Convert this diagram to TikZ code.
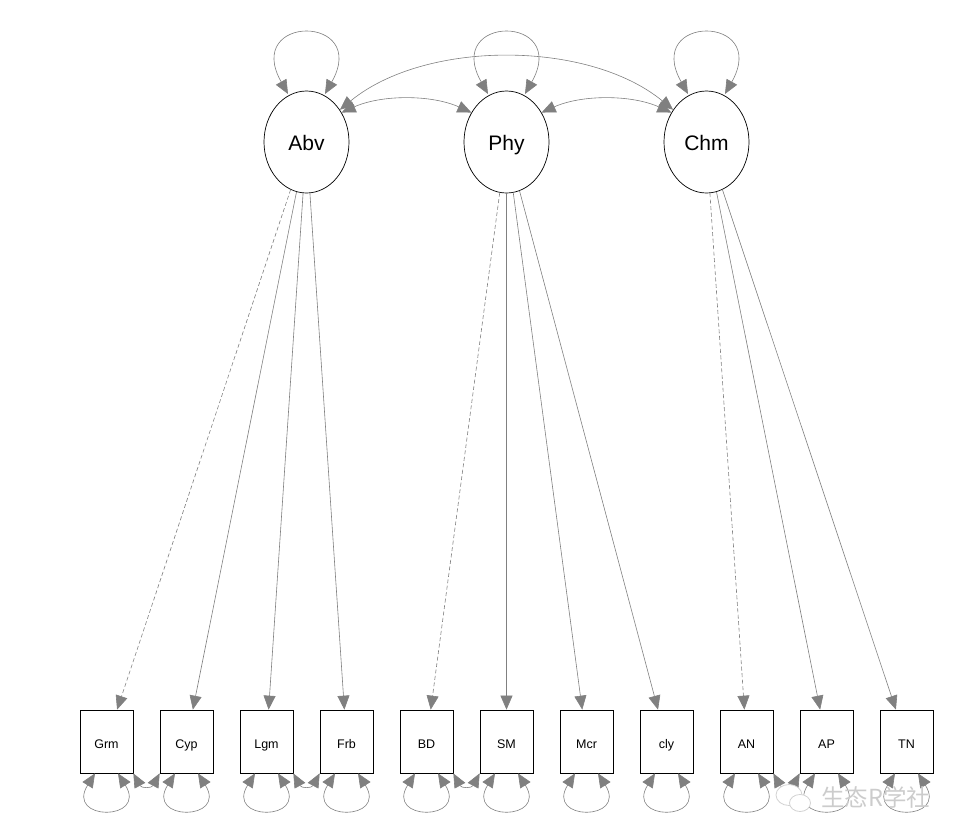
\documentclass[tikz,border=0pt]{standalone}
\usepackage{fontspec}
\setmainfont{Liberation Sans}
\newfontfamily\cjkfont{Noto Sans CJK SC}
\usetikzlibrary{arrows.meta,shapes.geometric,calc}
\begin{document}
\begin{tikzpicture}[x=1pt,y=-1pt,
  lat/.style={ellipse,draw=black,line width=0.7pt,minimum width=85pt,minimum height=102pt,inner sep=0pt,text height=16pt,text depth=0pt,font=\fontsize{21}{24}\selectfont},
  man/.style={rectangle,draw=black,line width=0.7pt,minimum width=53pt,minimum height=63pt,inner sep=0pt,text height=13pt,text depth=0pt,font=\fontsize{12.5}{14}\selectfont},
  conn/.style={draw=gray,line width=0.6pt},
  load/.style={conn,-{Triangle[length=14pt,width=12pt]}},
  dload/.style={load,dash pattern=on 4pt off 2.5pt},
  twohead/.style={conn,{Triangle[length=14pt,width=12pt]}-{Triangle[length=14pt,width=12pt]}},
  wm/.style={draw=gray!35,line width=0.8pt,fill=white}
]
\useasboundingbox (0,0) rectangle (959,838);

% latent variables
\node[lat] (Abv) at (306.5,142) {Abv};
\node[lat] (Phy) at (506.5,142) {Phy};
\node[lat] (Chm) at (706.5,142) {Chm};

% manifest variables
\foreach \n/\lab [count=\i from 0] in {Grm/Grm,Cyp/Cyp,Lgm/Lgm,Frb/Frb,BD/BD,SM/SM,Mcr/Mcr,cly/cly,AN/AN,AP/AP,TN/TN}
  \node[man] (\n) at (106.5+80*\i,741.5) {\lab};

% loadings
\draw[dload] (Abv) -- (Grm);
\draw[load] (Abv) -- (Cyp);
\draw[load] (Abv) -- (Lgm);
\draw[load] (Abv) -- (Frb);
\draw[dload] (Phy) -- (BD);
\draw[load] (Phy) -- (SM);
\draw[load] (Phy) -- (Mcr);
\draw[load] (Phy) -- (cly);
\draw[dload] (Chm) -- (AN);
\draw[load] (Chm) -- (AP);
\draw[load] (Chm) -- (TN);

% latent variances (loops on top)
\foreach \n in {Abv,Phy,Chm}
  \draw[twohead] ($(\n.center)+(-18.5,-48)$) .. controls +(-45,-80) and +(45,-80) .. ($(\n.center)+(18.5,-48)$);

% latent covariances
\draw[twohead] (Abv.40) .. controls +(40,-18) and +(-40,-18) .. (Phy.140);
\draw[twohead] (Phy.40) .. controls +(40,-18) and +(-40,-18) .. (Chm.140);
\draw[twohead] (Abv.44) .. controls +(85,-70) and +(-85,-70) .. (Chm.136);

% residual variances (loops below)
\foreach \n in {Grm,Cyp,Lgm,Frb,BD,SM,Mcr,cly,AN,AP,TN}
  \draw[twohead] ($(\n.south)+(-11.5,0)$) .. controls +(-30,48) and +(30,48) .. ($(\n.south)+(11.5,0)$);

% residual covariances
\draw[twohead] (Grm.south east) .. controls +(8,15) and +(-8,15) .. (Cyp.south west);
\draw[twohead] (Lgm.south east) .. controls +(8,15) and +(-8,15) .. (Frb.south west);
\draw[twohead] (BD.south east) .. controls +(8,15) and +(-8,15) .. (SM.south west);
\draw[twohead] (AN.south east) .. controls +(8,15) and +(-8,15) .. (AP.south west);

% watermark
\draw[wm] (789,795) ellipse [x radius=13, y radius=10.5];
\draw[wm] (800,803) ellipse [x radius=10.5, y radius=8.5];
\node[text=gray!40,font=\cjkfont\fontsize{23.5}{25}\selectfont,anchor=west,inner sep=0pt] (wmtext) at (821,797) {生态R学社};
\end{tikzpicture}
\end{document}
